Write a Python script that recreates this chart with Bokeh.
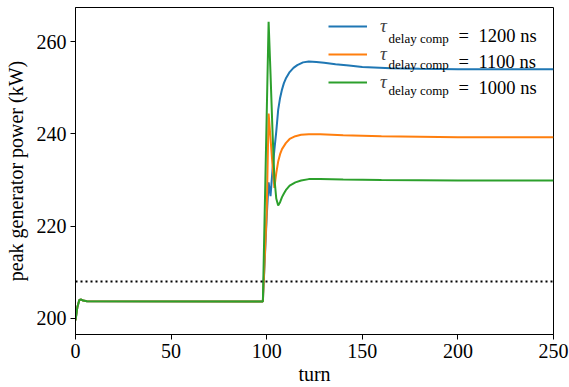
from bokeh.plotting import figure
from bokeh.models import Range1d, FixedTicker, Span, Legend, LegendItem, Label
from bokeh.embed import file_html
from bokeh.resources import INLINE

# ---- data ----
common_turns = [0, 1, 2, 3, 4, 6, 98]
common_power = [199.6, 202.5, 204.0, 204.1, 203.9, 203.75, 203.7]

blue_turns = [100, 101, 102, 103, 104, 105, 106, 107, 108, 109, 110, 112, 114, 116,
              119, 122, 126, 130, 136, 143, 150, 165, 180, 200, 250]
blue_power = [222.0, 229.5, 226.5, 232.0, 236.5, 240.5, 245.2, 247.8, 249.6, 251.0,
              252.0, 253.4, 254.3, 254.9, 255.5, 255.7, 255.6, 255.4, 255.1, 254.8,
              254.5, 254.2, 254.1, 254.0, 254.0]

orange_turns = [100, 101, 102, 103, 104, 105, 106, 107, 108, 110, 112, 115, 118, 122,
                128, 140, 160, 200, 250]
orange_power = [223.0, 244.4, 239.0, 233.5, 228.3, 231.5, 234.0, 235.6, 236.7, 238.0,
                238.9, 239.5, 239.8, 239.9, 239.9, 239.7, 239.5, 239.3, 239.3]

green_turns = [101, 102, 103, 104, 105, 106, 107, 108, 109, 110, 112, 115, 118, 122,
               128, 140, 160, 200, 250]
green_power = [264.3, 253.0, 241.0, 230.5, 226.0, 224.5, 225.2, 226.3, 227.1, 227.8,
               228.8, 229.5, 229.9, 230.2, 230.2, 230.1, 230.0, 229.9, 229.9]

tau_values = [1200, 1100, 1000]
threshold = 208.0

x_ticks = [0, 50, 100, 150, 200, 250]
y_ticks = [200, 220, 240, 260]

colors = ["#1f77b4", "#ff7f0e", "#2ca02c"]
FONT = "Liberation Serif"

FRAME_LEFT, FRAME_BOTTOM = 75, 334  # picture pixels of the frame corner

p = figure(width=569, height=387, output_backend="svg", toolbar_location=None,
           x_range=Range1d(0, 250), y_range=Range1d(196.53, 267.39),
           min_border_left=FRAME_LEFT, min_border_right=16, min_border_top=7,
           min_border_bottom=387 - FRAME_BOTTOM)
p.background_fill_color = "white"
p.border_fill_color = "white"
p.outline_line_color = "black"
p.outline_line_width = 1
p.grid.visible = False

for ax in (p.xaxis[0], p.yaxis[0]):
    ax.major_label_text_font = FONT
    ax.major_label_text_font_size = "20px"
    ax.major_label_text_color = "black"
    ax.axis_label_text_font = FONT
    ax.axis_label_text_font_size = "20px"
    ax.axis_label_text_font_style = "normal"
    ax.axis_label_text_color = "black"
    ax.axis_line_color = "black"
    ax.major_tick_line_color = "black"
    ax.major_tick_out = 5
    ax.major_tick_in = 0
    ax.minor_tick_line_color = None

p.xaxis.ticker = FixedTicker(ticks=x_ticks)
p.yaxis.ticker = FixedTicker(ticks=y_ticks)
p.xaxis.axis_label = "turn"
p.yaxis.axis_label = "peak generator power (kW)"
p.xaxis.major_label_standoff = 4
p.xaxis.axis_label_standoff = 2
p.yaxis.major_label_standoff = 4
p.yaxis.axis_label_standoff = 7

p.add_layout(Span(location=threshold, dimension="width", line_color="black",
                  line_width=2, line_dash="2 3"))

renderers = []
for turns, power, c in [(blue_turns, blue_power, colors[0]),
                        (orange_turns, orange_power, colors[1]),
                        (green_turns, green_power, colors[2])]:
    r = p.line(common_turns + turns, common_power + power, line_color=c, line_width=2)
    renderers.append(r)

items = [LegendItem(label="τ", renderers=[r]) for r in renderers]
legend = Legend(items=items, location=(328 - FRAME_LEFT, FRAME_BOTTOM - 92.7),
                padding=0, margin=0, spacing=6, glyph_width=39, glyph_height=20,
                label_height=20, label_standoff=13, border_line_alpha=0,
                background_fill_alpha=0, label_text_font=FONT,
                label_text_font_style="italic", label_text_font_size="19px")
p.add_layout(legend)

for i, tau in enumerate(tau_values):
    base = FRAME_BOTTOM - (35.5 + 26 * i)
    p.add_layout(Label(x=388 - FRAME_LEFT, y=base - 2.5, x_units="screen", y_units="screen",
                       text="delay comp", text_font=FONT, text_font_size="13px",
                       text_baseline="alphabetic", text_color="black"))
    p.add_layout(Label(x=458 - FRAME_LEFT, y=base, x_units="screen", y_units="screen",
                       text="=", text_font=FONT, text_font_size="18.5px",
                       text_baseline="alphabetic", text_color="black"))
    p.add_layout(Label(x=478 - FRAME_LEFT, y=base, x_units="screen", y_units="screen",
                       text=f"{tau} ns", text_font=FONT, text_font_size="18.5px",
                       text_baseline="alphabetic", text_color="black"))

open("out.html", "w").write(file_html(p, INLINE))
